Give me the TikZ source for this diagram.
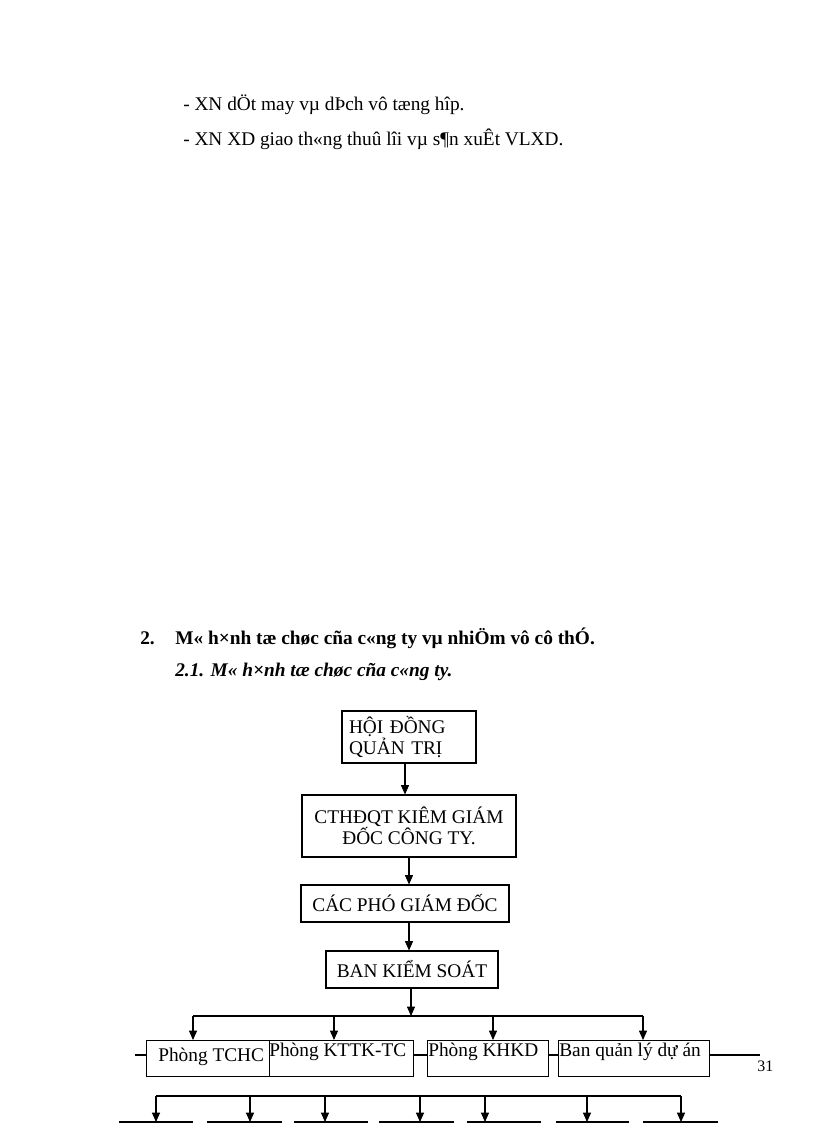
\documentclass[tikz,border=0pt]{standalone}
\usepackage{fontspec}
\setmainfont{Liberation Serif}
\usepackage{tikz}
\usetikzlibrary{arrows.meta}

\tikzset{
  orgbox/.style={draw, thick, inner sep=2pt, font=\fontsize{14.5}{16}\selectfont},
  bus/.style={thick},
  down/.style={thick, -{Triangle[length=7pt,width=6pt]}},
  bodytext/.style={anchor=west, inner sep=0pt, font=\fontsize{14.5}{17}\selectfont},
}

\begin{document}
\begin{tikzpicture}[x=0.75pt, y=-0.75pt]
              \useasboundingbox (0,0) rectangle (816,1123);
              % text lines
              \node[bodytext] (l1) at (183,105) {- XN dÖt may vµ dÞch vô tæng hîp.};
              \node[bodytext] (l2) at (183,139) {- XN XD giao th«ng thuû lîi vµ s¶n xuÊt VLXD.};
              \node[bodytext, font=\fontsize{14.5}{17}\selectfont\bfseries] (h2) at (140,638) {2.};
              \node[bodytext, font=\fontsize{14.5}{17}\selectfont\bfseries] (h2t) at (175,638) {M« h×nh tæ chøc cña c«ng ty vµ nhiÖm vô cô thÓ.};
              \node[bodytext, font=\fontsize{14.5}{17}\selectfont\bfseries\itshape] (h21) at (175,672) {2.1. M« h×nh tæ chøc cña c«ng ty.};
              % top of the chart
              \node[orgbox, minimum width=100.5pt, minimum height=39pt, align=left, text width=90pt] (hdqt) at (409,737) {HỘI ĐỒNG\\QUẢN TRỊ};
              \node[orgbox, minimum width=160.5pt, minimum height=46.5pt, align=center] (ct) at (409,826) {CTHĐQT KIÊM GIÁM\\ĐỐC CÔNG TY.};
              \node[orgbox, minimum width=156pt, minimum height=27.75pt] (pgd) at (405,903.5) {CÁC PHÓ GIÁM ĐỐC};
              \node[orgbox, minimum width=129pt, minimum height=27.75pt] (bks) at (412,969.5) {BAN KIỂM SOÁT};
              \draw[down] (hdqt.south -| 405,0) -- (ct.north -| 405,0);
              \draw[down] (ct.south) -- (pgd.north -| ct.south);
              \draw[down] (pgd.south -| ct.south) -- (bks.north -| ct.south);
              % rooms
              \node[orgbox, minimum width=92.25pt, minimum height=27pt, anchor=north west] (tchc) at (146,1040) {};
              \node[orgbox, minimum width=108pt, minimum height=27pt, anchor=north west] (kttk) at (269,1040) {};
              \node[orgbox, minimum width=90.75pt, minimum height=27pt, anchor=north west] (khkd) at (427,1040) {};
              \node[orgbox, minimum width=113.25pt, minimum height=27pt, anchor=north west] (bql) at (558,1040) {};
              \node[bodytext] (tchct) at (158,1057) {Phòng TCHC};
              \node[bodytext] (kttkt) at (269,1052) {Phòng KTTK-TC};
              \node[bodytext] (khkdt) at (428,1052) {Phòng KHKD};
              \node[bodytext] (bqlt) at (559,1052) {Ban quản lý dự án};
              \coordinate (b1) at (193,1016);
              \coordinate (b2) at (643,1016);
              \draw[down] (bks.south -| 411,0) -- (411,1016);
              \draw[bus] (b1) -- (b2);
              \draw[down] (b1) -- (b1 |- tchc.north);
              \draw[down] (334,1016) -- (334,1040);
              \draw[down] (493,1016) -- (493,1040);
              \draw[down] (b2) -- (b2 |- bql.north);
              \coordinate (s0) at (135,1055);
              \coordinate (s9) at (760,1055);
              \draw[bus] (s0) -- (s0 -| tchc.west);
              \draw[bus] (kttk.east |- s0) -- (khkd.west |- s0);
              \draw[bus] (khkd.east |- s0) -- (bql.west |- s0);
              \draw[bus] (bql.east |- s0) -- (s9);
              \node[anchor=west, inner sep=0pt, font=\fontsize{12}{14}\selectfont] (page) at (757,1066) {31};
              % lower row, cut by the page
              \coordinate (c1) at (156,1096);
              \coordinate (c7) at (681,1096);
              \draw[bus] (c1) -- (c7);
              \foreach \xl/\xr/\xa in {120/192/156, 208/281/250, 295/367/325, 380/453/420, 468/540/485, 557/628/587, 644/717/681}{
                \draw[thick] (\xl,1150) -- (\xl,1122) -- (\xr,1122) -- (\xr,1150);
                \draw[down] (\xa,1096) -- (\xa,1122);
              }
          \end{tikzpicture}
\end{document}
